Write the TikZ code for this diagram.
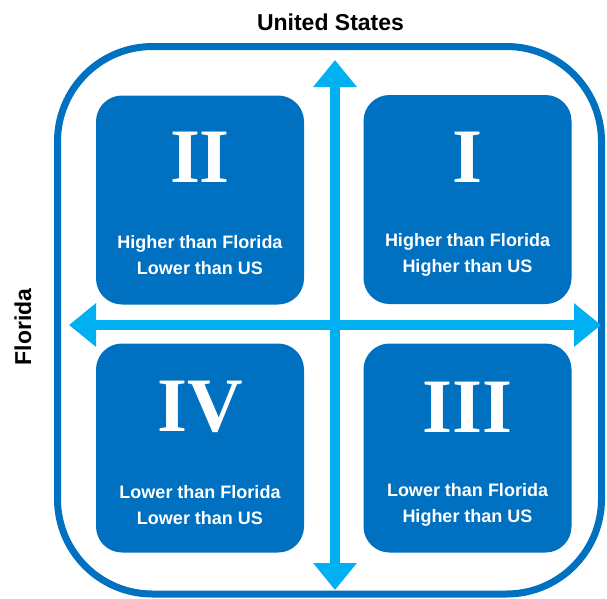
\documentclass[tikz,border=0pt]{standalone}
\usepackage{fontspec}
\setmainfont{Liberation Sans}
\newfontfamily\romanfont{Liberation Serif}
\usetikzlibrary{arrows.meta}
\definecolor{dblue}{HTML}{0070C0}
\definecolor{lblue}{HTML}{00B0F0}
\begin{document}
\begin{tikzpicture}[x=1pt,y=-1pt,
  quad/.style={fill=dblue, rounded corners=26pt, minimum width=208pt, minimum height=209pt, inner sep=0pt},
  numeral/.style={text=white, font=\romanfont\bfseries\fontsize{77}{77}\selectfont, inner sep=0pt},
  qlabel/.style={text=white, font=\bfseries\fontsize{18}{26}\selectfont, align=center, inner sep=0pt},
  axislabel/.style={font=\bfseries\fontsize{23}{23}\selectfont, inner sep=0pt},
  axis/.style={lblue, line width=10pt, {Triangle[width=42pt,length=27pt]}-{Triangle[width=42pt,length=27pt]}},
  ring/.style={dblue, line width=7pt, rounded corners=95pt}]
\useasboundingbox (0,0) rectangle (607,598);
\draw[ring] (57.5,46.5) rectangle (601.5,594);
% quadrants
\node[quad] (q2) at (200,200) {};
\node[quad] (q1) at (467.5,199.5) {};
\node[quad] (q4) at (200,448) {};
\node[quad] (q3) at (467.5,448) {};
\node[numeral] (n2) at ([yshift=-62pt]q2.north) {II};
\node[numeral] (n1) at ([yshift=-62pt]q1.north) {I};
\node[numeral] (n4) at ([yshift=-64pt]q4.north) {IV};
\node[numeral] (n3) at ([yshift=-64pt]q3.north) {III};
\node[qlabel] (l2) at ([yshift=-160pt]q2.north) {Higher than Florida\\Lower than US};
\node[qlabel] (l1) at ([yshift=-160pt]q1.north) {Higher than Florida\\Higher than US};
\node[qlabel] (l4) at ([yshift=-162pt]q4.north) {Lower than Florida\\Lower than US};
\node[qlabel] (l3) at ([yshift=-162pt]q3.north) {Lower than Florida\\Higher than US};
% axes
\coordinate (ytop) at (335,60);
\coordinate (ybot) at (335,590);
\coordinate (xleft) at (69,325);
\coordinate (xright) at (601,325);
\draw[axis] (xleft) -- (xright);
\draw[axis] (ybot) -- (ytop);
% axis labels
\node[axislabel] (us) at (330.5,22) {United States};
\node[axislabel, rotate=90] (fl) at (23,327) {Florida};
\end{tikzpicture}
\end{document}
